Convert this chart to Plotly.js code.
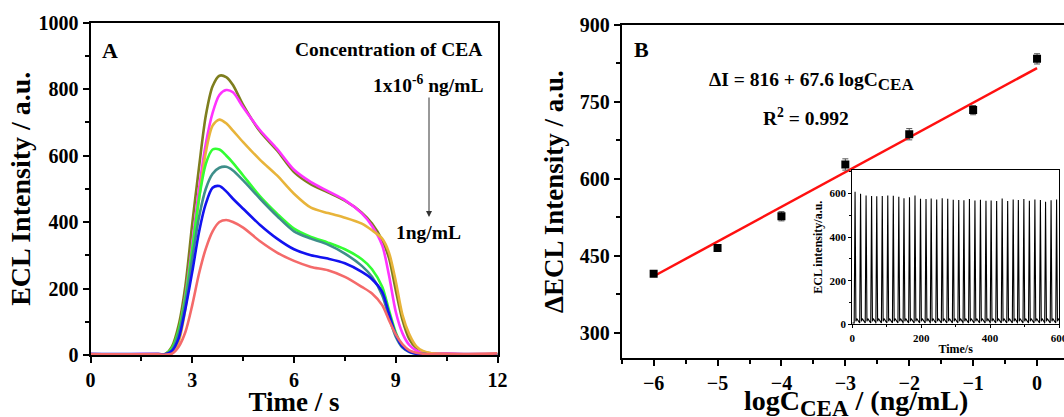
<!DOCTYPE html>
<html><head><meta charset="utf-8">
<script src="https://cdn.plot.ly/plotly-3.0.1.min.js"></script>
<style>html,body{margin:0;padding:0;background:#fff;} #chart{width:1064px;height:417px;}</style>
</head><body><div id="chart"></div>
<script>
// ---------- Panel A: ECL-time curves ----------
const timeA = [0, 1, 2, 2.2, 2.4, 2.6, 2.8, 3.0, 3.2, 3.4, 3.6, 3.8, 4.0, 4.2, 4.5, 5.0, 5.5, 6.0, 6.5, 7.0, 7.5, 8.0, 8.3, 8.6, 8.8, 9.0, 9.2, 9.4, 9.6, 9.8, 10.0, 10.4, 11, 12];
const ecl_1e6  = [3, 2, 3, 3, 25, 90, 210, 395, 565, 720, 808, 840, 836, 812, 752, 672, 615, 550, 513, 489, 464, 428, 395, 345, 292, 195, 105, 48, 22, 10, 6, 4, 3, 3];
const ecl_1e5  = [3, 2, 3, 2, 15, 70, 180, 335, 500, 635, 728, 782, 797, 790, 745, 676, 620, 557, 520, 493, 466, 426, 388, 330, 240, 130, 65, 30, 14, 7, 5, 4, 3, 3];
const ecl_1e4  = [2, 2, 2, 1, 5, 40, 140, 300, 470, 610, 690, 708, 697, 675, 640, 587, 540, 485, 443, 427, 413, 395, 375, 350, 308, 222, 120, 62, 27, 12, 6, 3, 2, 1];
const ecl_1e3  = [2, 2, 2, 2, 20, 75, 175, 320, 470, 575, 618, 618, 600, 578, 540, 477, 425, 380, 355, 338, 318, 288, 258, 205, 135, 68, 27, 10, 5, 3, 2, 2, 2, 2];
const ecl_1e2  = [2, 2, 2, 2, 15, 65, 160, 290, 415, 500, 545, 563, 566, 555, 525, 470, 418, 372, 350, 332, 305, 268, 235, 180, 115, 55, 22, 9, 4, 3, 2, 2, 1, 1];
const ecl_1e1  = [3, 3, 3, 2, 12, 50, 140, 250, 370, 455, 503, 508, 492, 470, 440, 391, 350, 318, 300, 290, 276, 250, 228, 190, 125, 62, 25, 10, 4, 3, 2, 1, 1, 1];
const ecl_1e0  = [2, 2, 2, 1, 4, 25, 70, 150, 245, 320, 372, 400, 406, 400, 383, 342, 308, 283, 265, 255, 235, 205, 185, 150, 105, 62, 32, 14, 7, 4, 3, 3, 2, 5];
const seriesA = [ecl_1e6, ecl_1e5, ecl_1e4, ecl_1e3, ecl_1e2, ecl_1e1, ecl_1e0];
const namesA = ['1x10-6 ng/mL', '1x10-5 ng/mL', '1x10-4 ng/mL', '1x10-3 ng/mL', '0.01 ng/mL', '0.1 ng/mL', '1 ng/mL'];
const colorsA = ['#7E7E1E', '#FF33FF', '#E8B43A', '#33FF33', '#3F8F8A', '#1212F0', '#F46A6A'];

// ---------- Panel B: calibration ----------
const logC = [-6, -5, -4, -3, -2, -1, 0];
const deltaI = [415, 465, 527, 628, 687, 734, 834];
const deltaErr = [4, 5, 9, 11, 11, 9, 10];
const fitX = [-6, 0];
const fitY = [410, 816];

// ---------- Inset: stability ----------
const peakTimes = [8, 24, 40, 56, 71, 87, 103, 119, 135, 150, 166, 182, 198, 214, 229, 245, 261, 277, 293, 309, 324, 340, 356, 372, 388, 403, 419, 435, 451, 467, 482, 498, 514, 530, 546, 561, 577, 593];
const peakHeights = [607, 598, 590, 588, 587, 588, 590, 589, 585, 577, 582, 590, 575, 574, 576, 572, 578, 575, 571, 570, 568, 574, 567, 571, 566, 567, 565, 576, 565, 572, 570, 574, 566, 572, 569, 561, 568, 572];
const cycleDt = [-2.5, 0, 2.5, 5, 7.5, 10, 13];
const cycleLevel = [6, null, 14, 26, 18, 10, 6];

const insetX = [0], insetY = [6];
peakTimes.forEach((t, i) => {
  cycleDt.forEach((d, j) => {
    insetX.push(t + d);
    insetY.push(cycleLevel[j] === null ? peakHeights[i] : cycleLevel[j]);
  });
});

const FONT = 'Liberation Serif, Times New Roman, serif';
const traces = [];
seriesA.forEach((s, i) => {
  traces.push({x: timeA, y: s, type: 'scatter', mode: 'lines', name: namesA[i],
    line: {color: colorsA[i], width: 2.6, shape: 'spline', smoothing: 0.8},
    xaxis: 'x', yaxis: 'y', showlegend: false, hoverinfo: 'skip'});
});
traces.push({x: fitX, y: fitY, type: 'scatter', mode: 'lines', name: 'fit',
  line: {color: '#FF1010', width: 2.5}, xaxis: 'x2', yaxis: 'y2', showlegend: false});
traces.push({x: logC, y: deltaI, type: 'scatter', mode: 'markers', name: 'ΔECL',
  marker: {symbol: 'square', size: 8, color: '#000'},
  error_y: {type: 'data', array: deltaErr, visible: true, color: '#555', thickness: 1, width: 3},
  xaxis: 'x2', yaxis: 'y2', showlegend: false});
traces.push({x: insetX, y: insetY, type: 'scatter', mode: 'lines', name: 'stability',
  line: {color: '#000', width: 1.1}, xaxis: 'x3', yaxis: 'y3', showlegend: false});

const W = 1064, H = 417;
const px = v => v / W, py = v => 1 - v / H;

const axisBase = {
  showline: true, linecolor: '#000', mirror: true, showgrid: false, zeroline: false,
  ticks: 'outside', tickcolor: '#000', ticklen: 6, tickwidth: 2, linewidth: 2,
  ticklabeloverflow: 'allow',
  tickfont: {family: FONT, size: 20, color: '#000', weight: 'bold'},
  minor: {ticks: 'outside', ticklen: 3.5, tickwidth: 2, tickcolor: '#000'}
};
const insetBase = {
  showline: true, linecolor: '#000', mirror: true, showgrid: false, zeroline: false,
  ticks: 'outside', tickcolor: '#000', ticklen: 3, tickwidth: 1, linewidth: 1,
  ticklabeloverflow: 'allow',
  tickfont: {family: FONT, size: 11, color: '#000', weight: 'bold'},
  minor: {ticks: 'outside', ticklen: 2, tickwidth: 1, tickcolor: '#000'}
};
const ann = (text, x, y, size) => ({text, xref: 'paper', yref: 'paper', x: px(x), y: py(y),
  xanchor: 'center', yanchor: 'middle', showarrow: false,
  font: {family: FONT, size, color: '#000', weight: 'bold'}});

const layout = {
  width: W, height: H, margin: {l: 0, r: 0, t: 0, b: 0},
  paper_bgcolor: '#fff', plot_bgcolor: 'rgba(0,0,0,0)',
  font: {family: FONT, color: '#000', weight: 'bold'},
  showlegend: false,
  xaxis: Object.assign({}, axisBase, {
    domain: [px(90.5), px(497.5)], range: [0, 12], dtick: 3, tick0: 0, anchor: 'y',
    minor: Object.assign({}, axisBase.minor, {dtick: 1.5}),
    title: {text: 'Time / s', font: {family: FONT, size: 27, weight: 'bold'}, standoff: 6}
  }),
  yaxis: Object.assign({}, axisBase, {
    domain: [py(355), py(22.5)], range: [0, 1000], dtick: 200, tick0: 0, anchor: 'x',
    minor: Object.assign({}, axisBase.minor, {dtick: 100}),
    title: {text: 'ECL Intensity / a.u.', font: {family: FONT, size: 28, weight: 'bold'}, standoff: 0}
  }),
  xaxis2: Object.assign({}, axisBase, {
    domain: [px(621.7), 1], range: [-6.5, 0.422], dtick: 1, tick0: 0, anchor: 'y2',
    minor: Object.assign({}, axisBase.minor, {dtick: 0.5})
  }),
  yaxis2: Object.assign({}, axisBase, {
    domain: [py(358.3), py(25)], range: [250, 900], dtick: 150, tick0: 300, anchor: 'x2',
    minor: Object.assign({}, axisBase.minor, {dtick: 75, tick0: 300}),
    title: {text: 'ΔECL Intensity / a.u.', font: {family: FONT, size: 27, weight: 'bold'}, standoff: 8}
  }),
  xaxis3: Object.assign({}, insetBase, {
    domain: [px(852.3), px(1059)], range: [0, 600], dtick: 200, tick0: 0, anchor: 'y3',
    minor: Object.assign({}, insetBase.minor, {dtick: 100}),
    title: {text: 'Time/s', font: {family: FONT, size: 12, weight: 'bold'}, standoff: 2}
  }),
  yaxis3: Object.assign({}, insetBase, {
    domain: [py(324.3), py(170)], range: [0, 707], dtick: 200, tick0: 0, anchor: 'x3',
    minor: Object.assign({}, insetBase.minor, {dtick: 100}),
    title: {text: 'ECL intensity/a.u.', font: {family: FONT, size: 12, weight: 'bold'}, standoff: 4}
  }),
  annotations: [
    ann('A', 110, 50, 22),
    ann('Concentration of CEA', 388.5, 49.5, 19.5),
    ann('1x10<sup>-6</sup> ng/mL', 428.5, 84, 19.5),
    ann('1ng/mL', 428.5, 232, 19.5),
    {text: '', xref: 'paper', yref: 'paper', x: px(429), y: py(217), ax: 0, ay: -121,
     showarrow: true, arrowhead: 2, arrowsize: 1.2, arrowwidth: 1, arrowcolor: '#333'},
    ann('B', 641.5, 49.5, 22),
    ann('ΔI = 816 + 67.6 logC<sub><span style="font-size:17px">CEA</span></sub>', 811, 81, 19.5),
    ann('R<sup>2</sup> = 0.992', 805.5, 117, 19.5),
    ann('logC<sub><span style="font-size:23px">CEA</span></sub> / (ng/mL)', 856.5, 403, 28)
  ]
};

Plotly.newPlot('chart', traces, layout, {displayModeBar: false, staticPlot: true});
</script>
</body></html>
